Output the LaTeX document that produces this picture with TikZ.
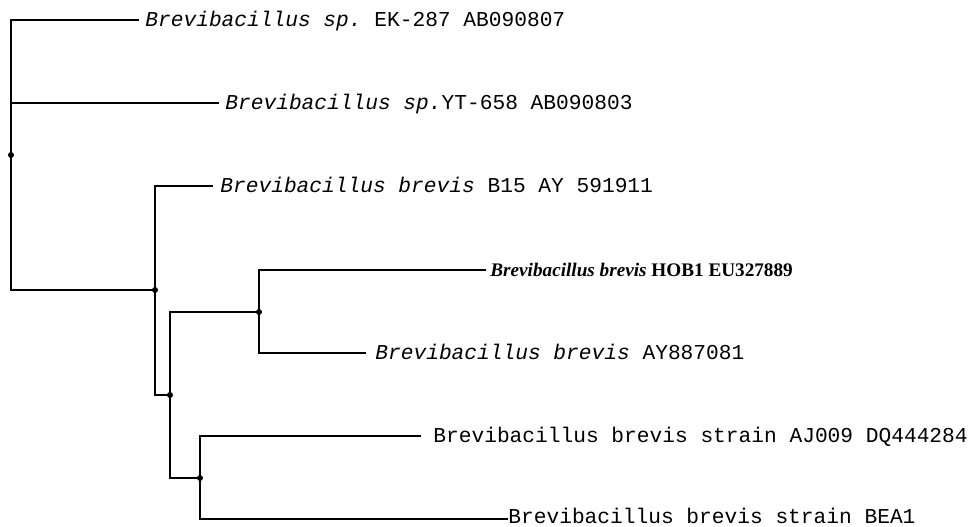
\documentclass[tikz,border=0pt]{standalone}
\usepackage{fontspec}
\setmainfont{Liberation Serif}
\setmonofont{Liberation Mono}
\usepackage{tikz}
\usetikzlibrary{positioning,calc}

\begin{document}
\begin{tikzpicture}[
    x=0.5pt, y=-0.5pt,
    branch/.style={line width=1pt, line cap=rect},
    junction/.style={circle, fill=black, inner sep=0pt, minimum size=3pt},
    taxon/.style={anchor=west, inner xsep=0pt, inner ysep=0pt, text depth=0pt,
        yshift=0.6pt, font=\fontsize{10.6}{12}\ttfamily},
    mytaxon/.style={anchor=west, inner xsep=0pt, inner ysep=0pt, text depth=0pt,
        font=\fontsize{9.6}{11}\rmfamily\bfseries}
]
\useasboundingbox (0,0) rectangle (970,526);

% internal nodes
\coordinate (root) at (11,155);
\coordinate (n1) at (155,290);
\coordinate (n2) at (170,395);
\coordinate (n3) at (259,312);
\coordinate (n4) at (200,478);

% leaf tips
\coordinate (t1) at (138,20);
\coordinate (t2) at (218,103);
\coordinate (t3) at (212,186);
\coordinate (t4) at (485,270);
\coordinate (t5) at (365,353);
\coordinate (t6) at (420,436);
\coordinate (t7) at (507,519);

% labels
\node[taxon] (ek287) at (145,20) {\textit{Brevibacillus sp.} EK-287 AB090807};
\node[taxon] (yt658) at (225,103) {\textit{Brevibacillus sp.}YT-658 AB090803};
\node[taxon] (b15) at (220,186) {\textit{Brevibacillus brevis} B15 AY 591911};
\node[mytaxon] (hob1) at (490,270) {\textit{Brevibacillus brevis} HOB1 EU327889};
\node[taxon] (ay887) at (375,353) {\textit{Brevibacillus brevis} AY887081};
\node[taxon] (aj009) at (433,436) {Brevibacillus brevis strain AJ009 DQ444284};
\node[taxon, yshift=0.8pt] (bea1) at (508,519) {Brevibacillus brevis strain BEA1};

% branches
\draw[branch] (root) |- (t1);
\draw[branch] (root) |- (t2);
\draw[branch] (root) |- (n1);
\draw[branch] (n1) |- (t3);
\draw[branch] (n1) |- (n2);
\draw[branch] (n2) |- (n3);
\draw[branch] (n2) |- (n4);
\draw[branch] (n3) |- (t4);
\draw[branch] (n3) |- (t5);
\draw[branch] (n4) |- (t6);
\draw[branch] (n4) |- (t7);

% dots
\foreach \n in {root,n1,n2,n3,n4}
    \node[junction] at (\n) {};

\end{tikzpicture}
\end{document}
